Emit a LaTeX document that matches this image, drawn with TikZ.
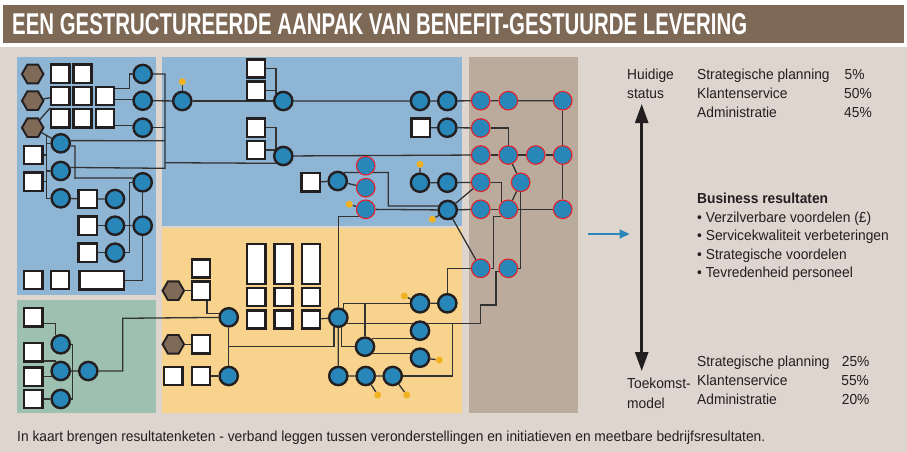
\documentclass[tikz,border=0pt]{standalone}
\usepackage{fontspec}
\setmainfont{Liberation Sans}
\newfontfamily\smalfont[FakeStretch=0.95]{Liberation Sans}
\newfontfamily\titelfont{Liberation Sans}
\usepackage{graphicx}
\usepackage{tikz}
\usetikzlibrary{positioning}
\usetikzlibrary{arrows.meta}
\usetikzlibrary{shapes.geometric}
\usetikzlibrary{calc}
\pgfdeclarelayer{achter}
\pgfdeclarelayer{lijnen}
\pgfsetlayers{achter,lijnen,main}
\definecolor{figBeige}{RGB}{221,213,206}
\definecolor{figTitel}{RGB}{126,105,86}
\definecolor{figBlauw}{RGB}{143,181,213}
\definecolor{figOranje}{RGB}{248,211,141}
\definecolor{figGroen}{RGB}{158,192,176}
\definecolor{figTaupe}{RGB}{187,171,157}
\definecolor{figBol}{RGB}{40,134,184}
\definecolor{figZes}{RGB}{127,106,88}
\definecolor{figRood}{RGB}{230,33,41}
\definecolor{figGeel}{RGB}{240,178,30}
\definecolor{figDonker}{RGB}{35,31,32}
\definecolor{figLijn}{RGB}{50,50,50}
\tikzset{
  bol/.style={
    circle, draw=figDonker, line width=2.4pt, fill=figBol,
    minimum size=18.3pt, inner sep=0pt
  },
  bolr/.style={
    circle, draw=figRood, line width=1.1pt, fill=figBol,
    minimum size=18.6pt, inner sep=0pt
  },
  vak/.style={
    rectangle, draw=figDonker, line width=2.4pt, fill=white,
    minimum size=18.1pt, inner sep=0pt
  },
  vakbreed/.style={vak, minimum width=44.3pt},
  vakhoog/.style={vak, minimum height=40pt},
  zes/.style={
    regular polygon, regular polygon sides=6, draw=figDonker, line width=1.9pt,
    fill=figZes, minimum size=21.5pt, inner sep=0pt
  },
  stip/.style={circle, fill=figGeel, minimum size=7pt, inner sep=0pt},
  lijn/.style={line width=1.3pt, draw=figLijn},
  tekst/.style={
    font=\smalfont\fontsize{14.5pt}{17pt}\selectfont, text=figDonker,
    anchor=base west, inner sep=0pt
  },
  tekstvet/.style={tekst, font=\smalfont\bfseries\fontsize{14.5pt}{17pt}\selectfont},
  pijl/.style={-{Triangle[length=10pt,width=9pt]}, line width=2pt, draw=figBol},
  dubbel/.style={{Triangle[length=19pt,width=13pt]}-{Triangle[length=19pt,width=13pt]},
    line width=2.6pt, draw=figDonker}
}

\begin{document}
\begin{tikzpicture}[x=1pt, y=-1pt, node distance=1.8pt]
  \useasboundingbox (0,0) rectangle (907,452);
  \begin{pgfonlayer}{achter}
    \fill[figBeige] (0,0) rectangle (907,452);
    \fill[white] (0,0) rectangle (907,47);
    \fill[figTitel] (3,5) rectangle (904,43.3);
    \fill[figBlauw] (17,57) rectangle (155.5,295);
    \fill[figBlauw] (161.7,57) rectangle (462,225.7);
    \fill[figOranje] (161.7,228) rectangle (462,413);
    \fill[figGroen] (17,299.5) rectangle (155.5,413);
    \fill[figTaupe] (469,57) rectangle (577.7,413);
  \end{pgfonlayer}

  \node[anchor=west, inner sep=0pt, text=white] (titel) at (12,24)
    {\resizebox{735pt}{21pt}{\titelfont\bfseries EEN GESTRUCTUREERDE AANPAK VAN BENEFIT-GESTUURDE LEVERING}};

  \node[zes] (h1) at (32.7,74) {};
  \node[zes] (h2) at (32.7,100.7) {};
  \node[zes] (h3) at (32.7,127.7) {};
  \node[vak] (v11) at (60.3,73.7) {};
  \node[vak, right=of v11] (v12) {};
  \node[vak] (v21) at (60.3,96) {};
  \node[vak, right=of v21] (v22) {};
  \node[vak, right=of v22] (v23) {};
  \node[vak, below=of v21] (v31) {};
  \node[vak, right=of v31] (v32) {};
  \node[vak, right=of v32] (v33) {};
  \node[bol] (c1) at (142.7,74) {};
  \node[bol] (c2) at (142.7,100.7) {};
  \node[bol] (c3) at (142.7,127.7) {};
  \node[bol] (c4) at (60.7,143.3) {};
  \node[bol] (c5) at (60.7,171) {};
  \node[bol] (c6) at (60.7,198.3) {};
  \node[vak] (s1) at (33.3,155) {};
  \node[vak] (s2) at (33.3,181.7) {};
  \node[vak] (s3) at (87.7,199) {};
  \node[vak] (s4) at (87.7,225.7) {};
  \node[vak] (s5) at (87.7,252.7) {};
  \node[bol] (c7) at (115,199) {};
  \node[bol] (c8) at (115,225.7) {};
  \node[bol] (c9) at (115,252.7) {};
  \node[bol] (c10) at (142.7,182.3) {};
  \node[bol] (c11) at (142.7,225.7) {};
  \node[vak] (s6) at (33.3,280) {};
  \node[vak] (s7) at (60,280) {};
  \node[vakbreed] (s8) at (101.7,280.3) {};

  \node[vak] (gs1) at (33.3,317.3) {};
  \node[vak] (gs2) at (33.3,352.3) {};
  \node[vak] (gs3) at (33.3,376.7) {};
  \node[vak] (gs4) at (33.3,399) {};
  \node[bol] (g1) at (60.7,344.3) {};
  \node[bol] (g2) at (60.7,371) {};
  \node[bol] (g3) at (60.7,399) {};
  \node[bol] (g4) at (88.3,371) {};

  \node[bol] (ka) at (182.3,101) {};
  \node[stip] (ya) at (182.3,81.7) {};
  \node[bol] (kb) at (283.3,101) {};
  \node[vak] (q2) at (256,90.7) {};
  \node[vak, above=of q2] (q1) {};
  \node[bol] (kc) at (283.3,156) {};
  \node[vak] (q4) at (256,150) {};
  \node[vak, above=of q4] (q3) {};
  \node[bol] (n1) at (420,101) {};
  \node[bol] (n2) at (447.3,101) {};
  \node[vak] (q5) at (420.7,127.7) {};
  \node[bol] (n3) at (447.3,127.7) {};
  \node[vak] (q6) at (310.7,182.3) {};
  \node[bol] (kd) at (337.7,181) {};
  \node[bolr] (m1) at (365.7,165.7) {};
  \node[bolr] (m2) at (365.7,187.7) {};
  \node[bolr] (m3) at (365.7,209.3) {};
  \node[stip] (ym) at (349.3,204.3) {};
  \node[bol] (n4) at (420,182.7) {};
  \node[stip] (yn) at (420,164.3) {};
  \node[bol] (n5) at (447.3,182.7) {};
  \node[bol] (ke) at (447.7,210) {};
  \node[stip] (ye) at (432.3,219.3) {};

  \node[bolr] (r11) at (480.7,100.7) {};
  \node[bolr] (r12) at (508.3,100.7) {};
  \node[bolr] (r13) at (562.7,100.7) {};
  \node[bolr] (r21) at (480.7,128) {};
  \node[bolr] (r31) at (480.7,155) {};
  \node[bolr] (r32) at (508.3,155) {};
  \node[bolr] (r33) at (535.7,155) {};
  \node[bolr] (r34) at (562.7,155) {};
  \node[bolr] (r41) at (480.7,182.3) {};
  \node[bolr] (r42) at (520.7,182.3) {};
  \node[bolr] (r51) at (480.7,209.3) {};
  \node[bolr] (r52) at (508.3,209.3) {};
  \node[bolr] (r53) at (562.7,209.3) {};
  \node[bolr] (r61) at (480.7,268.3) {};
  \node[bolr] (r62) at (508.3,268.3) {};

  \node[zes] (zh1) at (173.3,290.7) {};
  \node[zes] (zh2) at (173.3,344.3) {};
  \node[vak] (o2) at (201,290.7) {};
  \node[vak, above=of o2] (o1) {};
  \node[vak] (o3) at (201,344.3) {};
  \node[vak] (o4) at (173.3,376) {};
  \node[vak] (o5) at (201,376) {};
  \node[bol] (kf) at (228.7,317.3) {};
  \node[bol] (kg) at (228.7,376) {};
  \node[vakhoog] (t1) at (256.3,263.8) {};
  \node[vak, below=of t1] (u1) {};
  \node[vak, below=of u1] (w1) {};
  \node[vakhoog] (t2) at (283.6,263.8) {};
  \node[vak, below=of t2] (u2) {};
  \node[vak, below=of u2] (w2) {};
  \node[vakhoog] (t3) at (311,263.8) {};
  \node[vak, below=of t3] (u3) {};
  \node[vak, below=of u3] (w3) {};
  \node[bol] (kh) at (338.3,317.7) {};
  \node[bol] (ki) at (420,303.3) {};
  \node[stip] (yi) at (404.3,296) {};
  \node[bol] (kj) at (447.3,303.3) {};
  \node[bol] (kk) at (420,330.7) {};
  \node[bol] (kl) at (365,346.7) {};
  \node[bol] (km) at (420,357.7) {};
  \node[stip] (ymm) at (439.3,360) {};
  \node[bol] (b1) at (338.3,376) {};
  \node[bol] (b2) at (365.7,376) {};
  \node[bol] (b3) at (392.7,376) {};
  \node[stip] (yb2) at (377.7,395) {};
  \node[stip] (yb3) at (406.7,395) {};

  \begin{pgfonlayer}{lijnen}
    \draw[lijn] (h2) -- (v21);
    \draw[lijn] (h3) -- (v31.north west);
    \draw[lijn] (h3) -- (c4);
    \draw[lijn] (46.7,135.5) -- (46.7,198.3) -- (c6);
    \draw[lijn] (s1) -- (46.7,155);
    \draw[lijn] (s2) -- (46.7,181.7);
    \draw[lijn] (46.7,143.3) -- (c4);
    \draw[lijn] (46.7,171) -- (c5);
    \draw[lijn] (v23.35) -| (129.3,74) -- (c1);
    \draw[lijn] (v23.-20) -- (v23.-20 -| c2);
    \draw[lijn] (v33.-35) -- (v33.-35 -| c3);
    \draw[lijn] (c1) -| (165,168.3) -- (c5.20);
    \draw[lijn] (c2) -- (ka);
    \draw[lijn] (c3) -- (165,127.7);
    \draw[lijn] (c4.15) -- (165,140.7);
    \draw[lijn] (c4.-15) -| (75,178.1) -- (c10.155);
    \draw[lijn] (c6) -- (s3) -- (c7);
    \draw[lijn] (s4) -- (c8) -- (c11);
    \draw[lijn] (s5) -- (c9) -| (129.3,182.3) -- (c10);
    \draw[lijn] (c10) -- (c11) |- (s8);

    \draw[lijn] (gs1.-30) -| (g1.120);
    \draw[lijn] (gs2.-40) -| (g2.120);
    \draw[lijn] (gs3) -- (gs3 -| g2);
    \draw[lijn] (gs4) -- (g3);
    \draw[lijn] (g1) -| (72.7,399) -- (g3);
    \draw[lijn] (g2) -- (g4) -| (122.7,318.3) -- (kf);

    \draw[lijn] (ya) -- (ka) -- (kb);
    \draw[lijn] (q1) -| (kb.north west);
    \draw[lijn] (q2) -- (q2 -| kb.north west);
    \draw[lijn] (165,162.7) -- (kc.south west);
    \draw[lijn] (q3) -| (kc.north west);
    \draw[lijn] (q4) -- (q4 -| kc);
    \draw[lijn] (kb) -- (n1) -- (n2) -- (r11) -- (r12) -- (r13);
    \draw[lijn] (q5) -- (n3) -- (r21);
    \draw[lijn] (kc) -- (r31);
    \draw[lijn] (q6) -- (kd) -- (m2);
    \draw[lijn] (kd.55) -| (388.3,206) -- (ke.157);
    \draw[lijn] (ym) -- (m3) -- (ke);
    \draw[lijn] (m3.-135) -| (kh);
    \draw[lijn] (yn) -- (n4) -- (n5) -- (r41);
    \draw[lijn] (ye) -- (ke) -- (r41);
    \draw[lijn] (ke) -- (r51);
    \draw[lijn] (ke) -- (r61);

    \draw[lijn] (r13) -- (r34) -- (r53);
    \draw[lijn] (r21) -| (r32);
    \draw[lijn] (r31) -- (r32) -- (r33) -- (r34);
    \draw[lijn] (r32) -- (r42) -- (r52);
    \draw[lijn] (r41) -| (r52.135);
    \draw[lijn] (r42) |- (r62);
    \draw[lijn] (r51) -- (r52) -- (r53);
    \draw[lijn] (r52.-135) -| (493.3,268.3) -- (r61);
    \draw[lijn] (r61) -| (kj);
    \draw[lijn] (kh.-35) -- (kh.-35 -| r61) |- (496,305) |- (r62.200);
    \draw[lijn] (b3) -| (452.7,323.4);

    \draw[lijn] (zh1) -- (o2);
    \draw[lijn] (o2.-60) |- (kf.160);
    \draw[lijn] (kf) -- (kg);
    \draw[lijn] ($(kf)!.5!(kg)$) -| (kh.-115);
    \draw[lijn] (zh2) -- (o3);
    \draw[lijn] (o5) -- (kg);
    \draw[lijn] (w3) -- (kh) -- (b1) -- (b2) -- (b3);
    \draw[lijn] (kh.60) |- (ki);
    \draw[lijn] (yi) -- (ki) -- (kj);
    \draw[lijn] (kl |- ki) -- (kl);
    \draw[lijn] (kh.-70) |- (kl);
    \draw[lijn] (kl.50) -- (kl.50 -| kk);
    \draw[lijn] (kl.-40) -- (kl.-40 -| km);
    \draw[lijn] (km) -- (ymm);
    \draw[lijn] (b2) -- (yb2);
    \draw[lijn] (b3) -- (yb3);
  \end{pgfonlayer}

  \coordinate (instroom) at (588,234);
  \coordinate (uitstroom) at (629.5,234);
  \draw[pijl] (instroom) -- (uitstroom);
  \coordinate (boven) at (641.7,104);
  \coordinate (onder) at (641.7,371);
  \draw[dubbel] (boven) -- (onder);

  \node[tekst] (huidig1) at (627,79.4) {Huidige};
  \node[tekst] (huidig2) at (627,98.2) {status};
  \node[tekst] (nu1) at (697,79.4) {Strategische planning};
  \node[tekst] (nu2) at (697,98.2) {Klantenservice};
  \node[tekst] (nu3) at (697,117) {Administratie};
  \node[tekst] (pnu1) at (844.5,79.4) {5\%};
  \node[tekst] (pnu2) at (844,98.2) {50\%};
  \node[tekst] (pnu3) at (844,117) {45\%};
  \node[tekstvet] (bres) at (697,203.5) {Business resultaten};
  \node[tekst] (bres1) at (697,222) {• Verzilverbare voordelen (£)};
  \node[tekst] (bres2) at (697,240.5) {• Servicekwaliteit verbeteringen};
  \node[tekst] (bres3) at (697,259) {• Strategische voordelen};
  \node[tekst] (bres4) at (697,277.5) {• Tevredenheid personeel};
  \node[tekst] (toek1) at (697,366.7) {Strategische planning};
  \node[tekst] (toek2) at (697,385.4) {Klantenservice};
  \node[tekst] (toek3) at (697,404) {Administratie};
  \node[tekst] (ptoek1) at (841.7,366.7) {25\%};
  \node[tekst] (ptoek2) at (841.2,385.4) {55\%};
  \node[tekst] (ptoek3) at (841.7,404) {20\%};
  \node[tekst] (model1) at (627,388.6) {Toekomst-};
  \node[tekst] (model2) at (627,408) {model};
  \node[tekst] (onderschrift) at (17,441.5) {In kaart brengen resultatenketen - verband leggen tussen veronderstellingen en initiatieven en meetbare bedrijfsresultaten.};
\end{tikzpicture}
\end{document}
